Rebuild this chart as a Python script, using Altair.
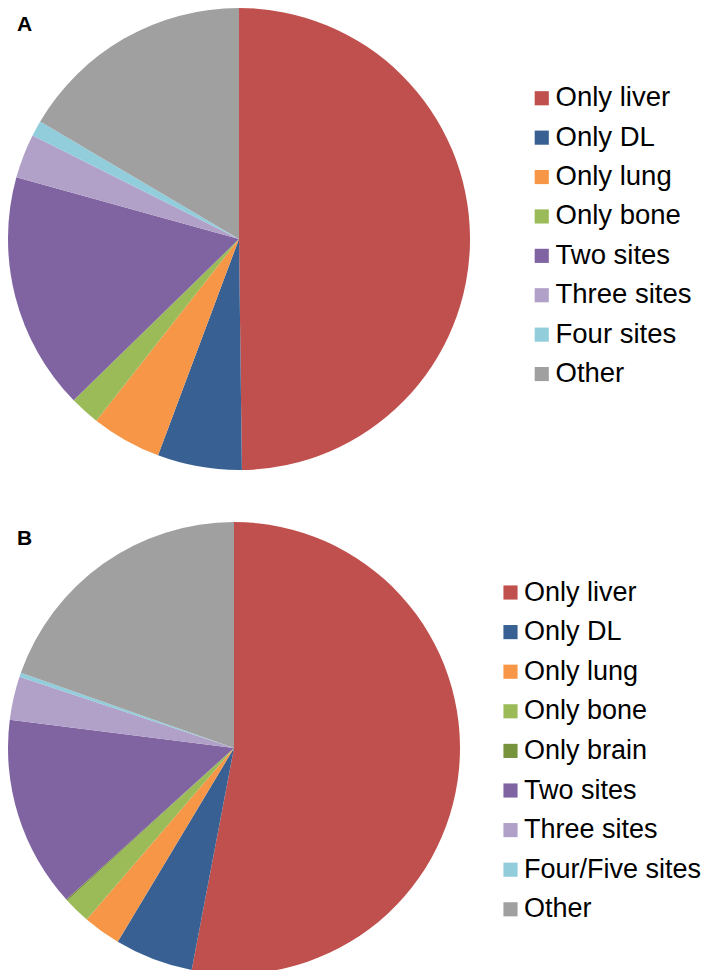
import altair as alt
import pandas as pd

# Panel A
labels_a = ["Only liver", "Only DL", "Only lung", "Only bone", "Two sites",
            "Three sites", "Four sites", "Other"]
values_a = [49.8, 5.9, 4.9, 2.1, 16.6, 3.1, 1.1, 16.5]
colors_a = ["#C0504D", "#386092", "#F79646", "#9BBB59", "#8064A2",
            "#B1A0C7", "#92CDDC", "#A0A0A0"]

# Panel B
labels_b = ["Only liver", "Only DL", "Only lung", "Only bone", "Only brain",
            "Two sites", "Three sites", "Four/Five sites", "Other"]
values_b = [53.0, 5.6, 2.7, 1.9, 0.1, 13.7, 3.1, 0.3, 19.6]
colors_b = ["#C0504D", "#386092", "#F79646", "#9BBB59", "#77933C",
            "#8064A2", "#B1A0C7", "#92CDDC", "#A0A0A0"]

df_a = pd.DataFrame({"cat": labels_a, "value": values_a, "idx": range(len(labels_a))})
df_b = pd.DataFrame({"cat": labels_b, "value": values_b, "idx": range(len(labels_b))})

FONT = "Liberation Sans"


def legend(x, y, rowpad, fs):
    return alt.Legend(
        title=None, orient="none", legendX=x, legendY=y,
        symbolType="square", symbolSize=200, symbolStrokeWidth=0,
        symbolOpacity=1, labelFontSize=fs, labelFont=FONT,
        labelColor="#000000", labelOffset=0, rowPadding=rowpad,
        padding=0, labelLimit=400,
    )


pie_a = alt.Chart(df_a).mark_arc(radius=231, stroke=None).encode(
    theta=alt.Theta("value:Q", stack=True),
    order=alt.Order("idx:Q"),
    color=alt.Color("cat:N",
                    scale=alt.Scale(domain=labels_a, range=colors_a),
                    legend=legend(520, 76.5, 10.4, 27.5)),
    x=alt.value(231), y=alt.value(231),
)

pie_b = alt.Chart(df_b).mark_arc(radius=226, stroke=None).encode(
    theta=alt.Theta("value:Q", stack=True),
    order=alt.Order("idx:Q"),
    color=alt.Color("cat:N",
                    scale=alt.Scale(domain=labels_b, range=colors_b),
                    legend=legend(489, 571, 11.6, 27)),
    x=alt.value(226), y=alt.value(740),
)

text_a = alt.Chart(pd.DataFrame({"t": ["A"]})).mark_text(
    font=FONT, fontSize=21, fontWeight="bold", align="left",
    baseline="alphabetic", color="#000000"
).encode(text="t:N", x=alt.value(9), y=alt.value(23))

text_b = alt.Chart(pd.DataFrame({"t": ["B"]})).mark_text(
    font=FONT, fontSize=21, fontWeight="bold", align="left",
    baseline="alphabetic", color="#000000"
).encode(text="t:N", x=alt.value(9), y=alt.value(537))

chart = alt.layer(pie_a, pie_b, text_a, text_b).resolve_scale(
    color="independent", theta="independent"
).properties(
    width=693, height=962, padding=0,
    autosize=alt.AutoSizeParams(type="none"),
).configure_view(stroke=None)

chart.save("out.html", embed_options={"renderer": "svg", "actions": False})
